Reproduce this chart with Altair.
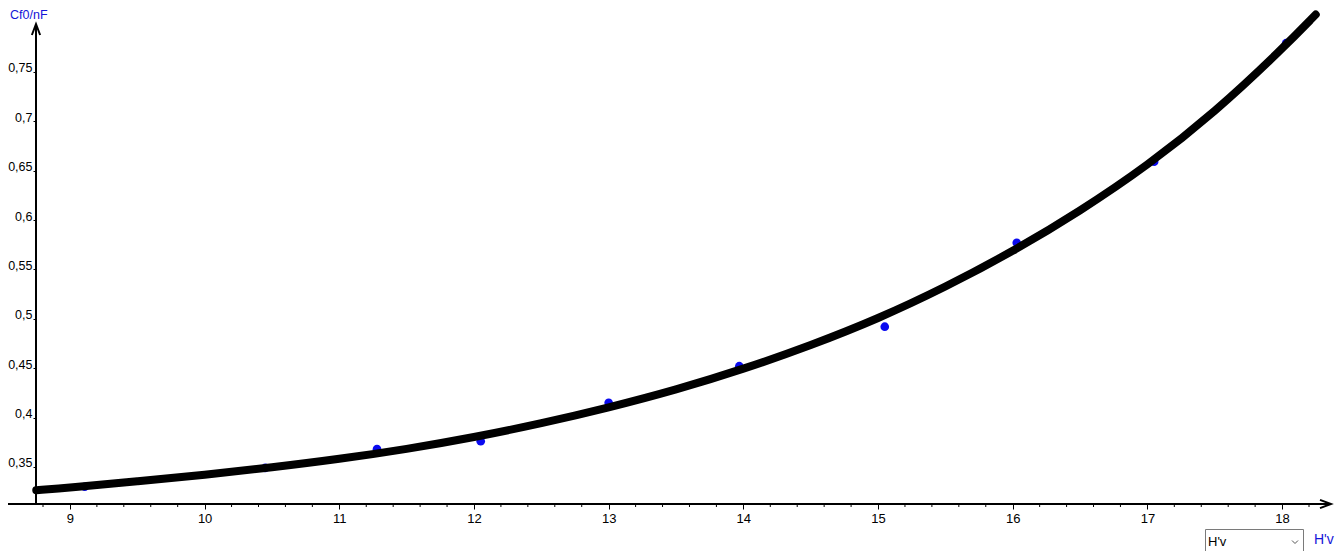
import altair as alt
import pandas as pd
import numpy as np

# measured points (H'v, Cf0/nF)
pt_x = [9.11, 10.45, 11.28, 12.05, 13.00, 13.97, 15.05, 16.03, 17.05, 18.03]
pt_y = [0.330, 0.349, 0.368, 0.376, 0.415, 0.452, 0.492, 0.577, 0.659, 0.779]

# fitted curve
cv_x = [8.75, 9.0, 9.5, 10.0, 10.5, 11.0, 11.5, 12.0, 12.5, 13.0, 13.5, 14.0,
        14.5, 15.0, 15.5, 16.0, 16.5, 17.0, 17.5, 18.0, 18.25]
cv_y = [0.3265, 0.329, 0.3355, 0.342, 0.3495, 0.358, 0.368, 0.380, 0.394, 0.410,
        0.428, 0.449, 0.473, 0.500, 0.532, 0.568, 0.609, 0.655, 0.709, 0.773, 0.808]

x_ticks = [9, 10, 11, 12, 13, 14, 15, 16, 17, 18]
y_ticks = [0.35, 0.40, 0.45, 0.50, 0.55, 0.60, 0.65, 0.70, 0.75]
minor_ticks = [round(v, 1) for v in np.arange(8.8, 18.3, 0.2) if abs(v - round(v)) > 1e-6]

W, H = 1299, 494
XD = [8.748, 18.393]
YD = [0.3125, 0.8126]

pts = pd.DataFrame({"x": pt_x, "y": pt_y})
curve = pd.DataFrame({"x": cv_x, "y": cv_y})
minor = pd.DataFrame({"m": minor_ticks})
one = pd.DataFrame({"a": [0]})

xs = alt.Scale(domain=XD, nice=False, zero=False)
ys = alt.Scale(domain=YD, nice=False, zero=False)

FONT = "Liberation Sans"
BLUE_T = "#1414d8"

xaxis = alt.Axis(values=x_ticks, format="d", domain=False, grid=False, tickSize=5,
                 tickColor="black", tickWidth=1, labelPadding=3, labelFont=FONT,
                 labelFontSize=13, labelColor="black", title=None, labelFlush=False)
yaxis = alt.Axis(values=y_ticks, domain=False, grid=False, tickSize=3, tickColor="black",
                 tickWidth=1, labelPadding=1, labelFont=FONT, labelFontSize=12.5,
                 labelColor="black", title=None, labelBaseline="alphabetic",
                 labelExpr="replace(format(datum.value, '.2~f'), '.', ',')")

points = alt.Chart(pts).mark_point(shape="circle", size=75, color="#0a0af0", filled=True,
                                   opacity=1).encode(
    x=alt.X("x:Q", scale=xs, axis=xaxis),
    y=alt.Y("y:Q", scale=ys, axis=yaxis),
)

line = alt.Chart(curve).mark_line(color="black", strokeWidth=8, strokeCap="round",
                                  strokeJoin="round", interpolate="basis").encode(
    x=alt.X("x:Q", scale=xs), y=alt.Y("y:Q", scale=ys))

minor_rules = alt.Chart(minor).mark_rule(color="black", strokeWidth=1).encode(
    x=alt.X("m:Q", scale=xs), y=alt.value(H), y2=alt.value(H + 3))

x_line = alt.Chart(one).mark_rule(color="black", strokeWidth=2).encode(
    x=alt.value(-36), x2=alt.value(1295), y=alt.value(H))
y_line = alt.Chart(one).mark_rule(color="black", strokeWidth=2).encode(
    x=alt.value(0), y=alt.value(H), y2=alt.value(14))

y_arrow = alt.Chart(one).mark_point(shape="M-0.75,2L0,0L0.75,2", size=121, filled=False,
                                    color="black", strokeWidth=2, opacity=1).encode(
    x=alt.value(0), y=alt.value(14))
x_arrow = alt.Chart(one).mark_point(shape="M-2,-0.75L0,0L-2,0.75", size=121, filled=False,
                                    color="black", strokeWidth=2, opacity=1).encode(
    x=alt.value(1295), y=alt.value(H))

y_title = alt.Chart(one).mark_text(text="Cf0/nF", align="left", baseline="middle",
                                   font=FONT, fontSize=12.5, color=BLUE_T).encode(
    x=alt.value(-26), y=alt.value(5))
x_title = alt.Chart(one).mark_text(text="H'v", align="left", baseline="middle",
                                   font=FONT, fontSize=14, color=BLUE_T).encode(
    x=alt.value(1278), y=alt.value(530))

box = alt.Chart(one).mark_rect(fill="white", stroke="#7a7a7a", strokeWidth=1).encode(
    x=alt.value(1169.5), x2=alt.value(1267.5), y=alt.value(519.5), y2=alt.value(545))
box_text = alt.Chart(one).mark_text(text="H'v", align="left", baseline="middle",
                                    font=FONT, fontSize=13, color="black").encode(
    x=alt.value(1172), y=alt.value(532))
box_chev = alt.Chart(one).mark_point(shape="M-1,-0.5L0,0.5L1,-0.5", size=36, filled=False,
                                     color="#555555", strokeWidth=1, opacity=1).encode(
    x=alt.value(1259), y=alt.value(532))

chart = alt.layer(
    points, line, minor_rules, x_line, y_line, y_arrow, x_arrow,
    y_title, x_title, box, box_text, box_chev
).properties(
    width=W, height=H,
    padding={"left": 28, "top": 2, "right": 1, "bottom": 47},
    autosize=alt.AutoSizeParams(type="none"),
    background="white",
).configure_view(stroke=None)

chart.save("out.html", embed_options={"renderer": "svg", "actions": False})
